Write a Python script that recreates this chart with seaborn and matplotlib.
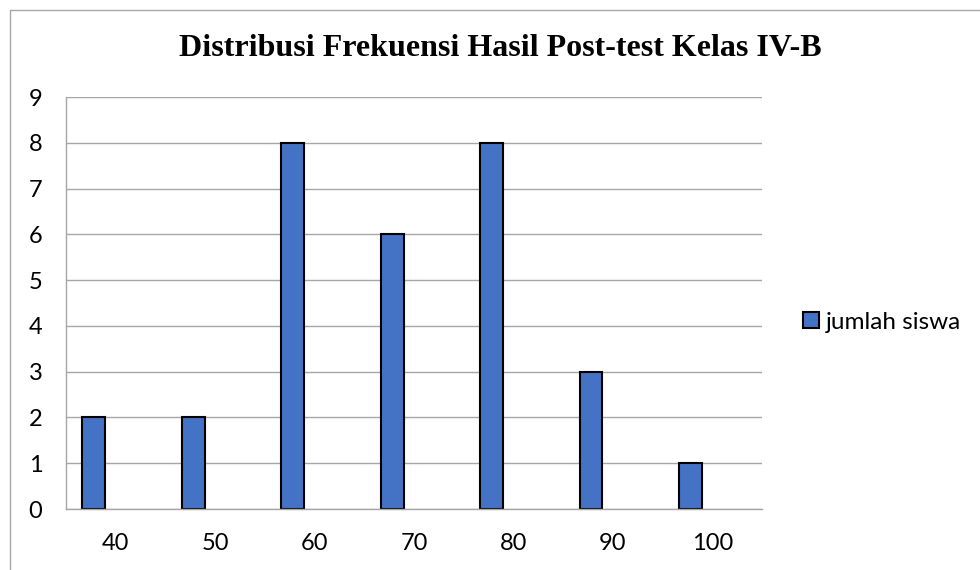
import numpy as np
import pandas as pd
import seaborn as sns
import matplotlib.pyplot as plt
from matplotlib.patches import Rectangle

nilai = ["40", "50", "60", "70", "80", "90", "100"]
jumlah_siswa = [2, 2, 8, 6, 8, 3, 1]
judul = "Distribusi Frekuensi Hasil Post-test Kelas IV-B"
label_seri = "jumlah siswa"

df = pd.DataFrame({"nilai": nilai, "jumlah": jumlah_siswa})

sns.set_theme(style="white")
plt.rcParams["font.family"] = ["Lato", "DejaVu Sans"]

fig = plt.figure(figsize=(9.8, 5.7), dpi=100)
ax = fig.add_axes([0.0673, 0.107, 0.7103, 0.7228])

sns.barplot(data=df, x="nilai", y="jumlah", color="#4472C4", width=0.23,
            edgecolor="black", linewidth=1.5, saturation=1, ax=ax,
            label=label_seri)
# Excel-style offset: bar sits left of the category centre
for p in ax.patches:
    p.set_x(p.get_x() - 0.22)

ax.set_ylim(0, 9)
ax.set_xlim(-0.5, len(nilai) - 0.5)
ax.set_yticks(range(0, 10))
ax.yaxis.grid(True, color="#a6a6a6", linewidth=1)
ax.set_axisbelow(True)
ax.set_xlabel("")
ax.set_ylabel("")
ax.tick_params(axis="both", length=0, labelsize=17, colors="black")
ax.tick_params(axis="x", pad=17)
ax.tick_params(axis="y", pad=17)
for s in ["top", "right"]:
    ax.spines[s].set_visible(False)
for s in ["left", "bottom"]:
    ax.spines[s].set_color("#a6a6a6")
    ax.spines[s].set_linewidth(1)

fig.text(0.511, 0.915, judul, ha="center", va="center", fontsize=23,
         fontweight="bold", color="black",
         family=["Liberation Serif", "DejaVu Serif"])

ax.legend(loc="center left", bbox_to_anchor=(803 / 980, 0.435),
          bbox_transform=fig.transFigure, frameon=False, fontsize=17.5,
          handlelength=0.65, handleheight=0.65, handletextpad=0.3,
          borderaxespad=0, borderpad=0, labelcolor="black")

fig.patches.append(Rectangle((10 / 980, -0.1), 1.2, 1 - 10 / 570 + 0.1,
                             transform=fig.transFigure, fill=False,
                             edgecolor="#a6a6a6", linewidth=1))

fig.savefig("out.png", dpi=100)
